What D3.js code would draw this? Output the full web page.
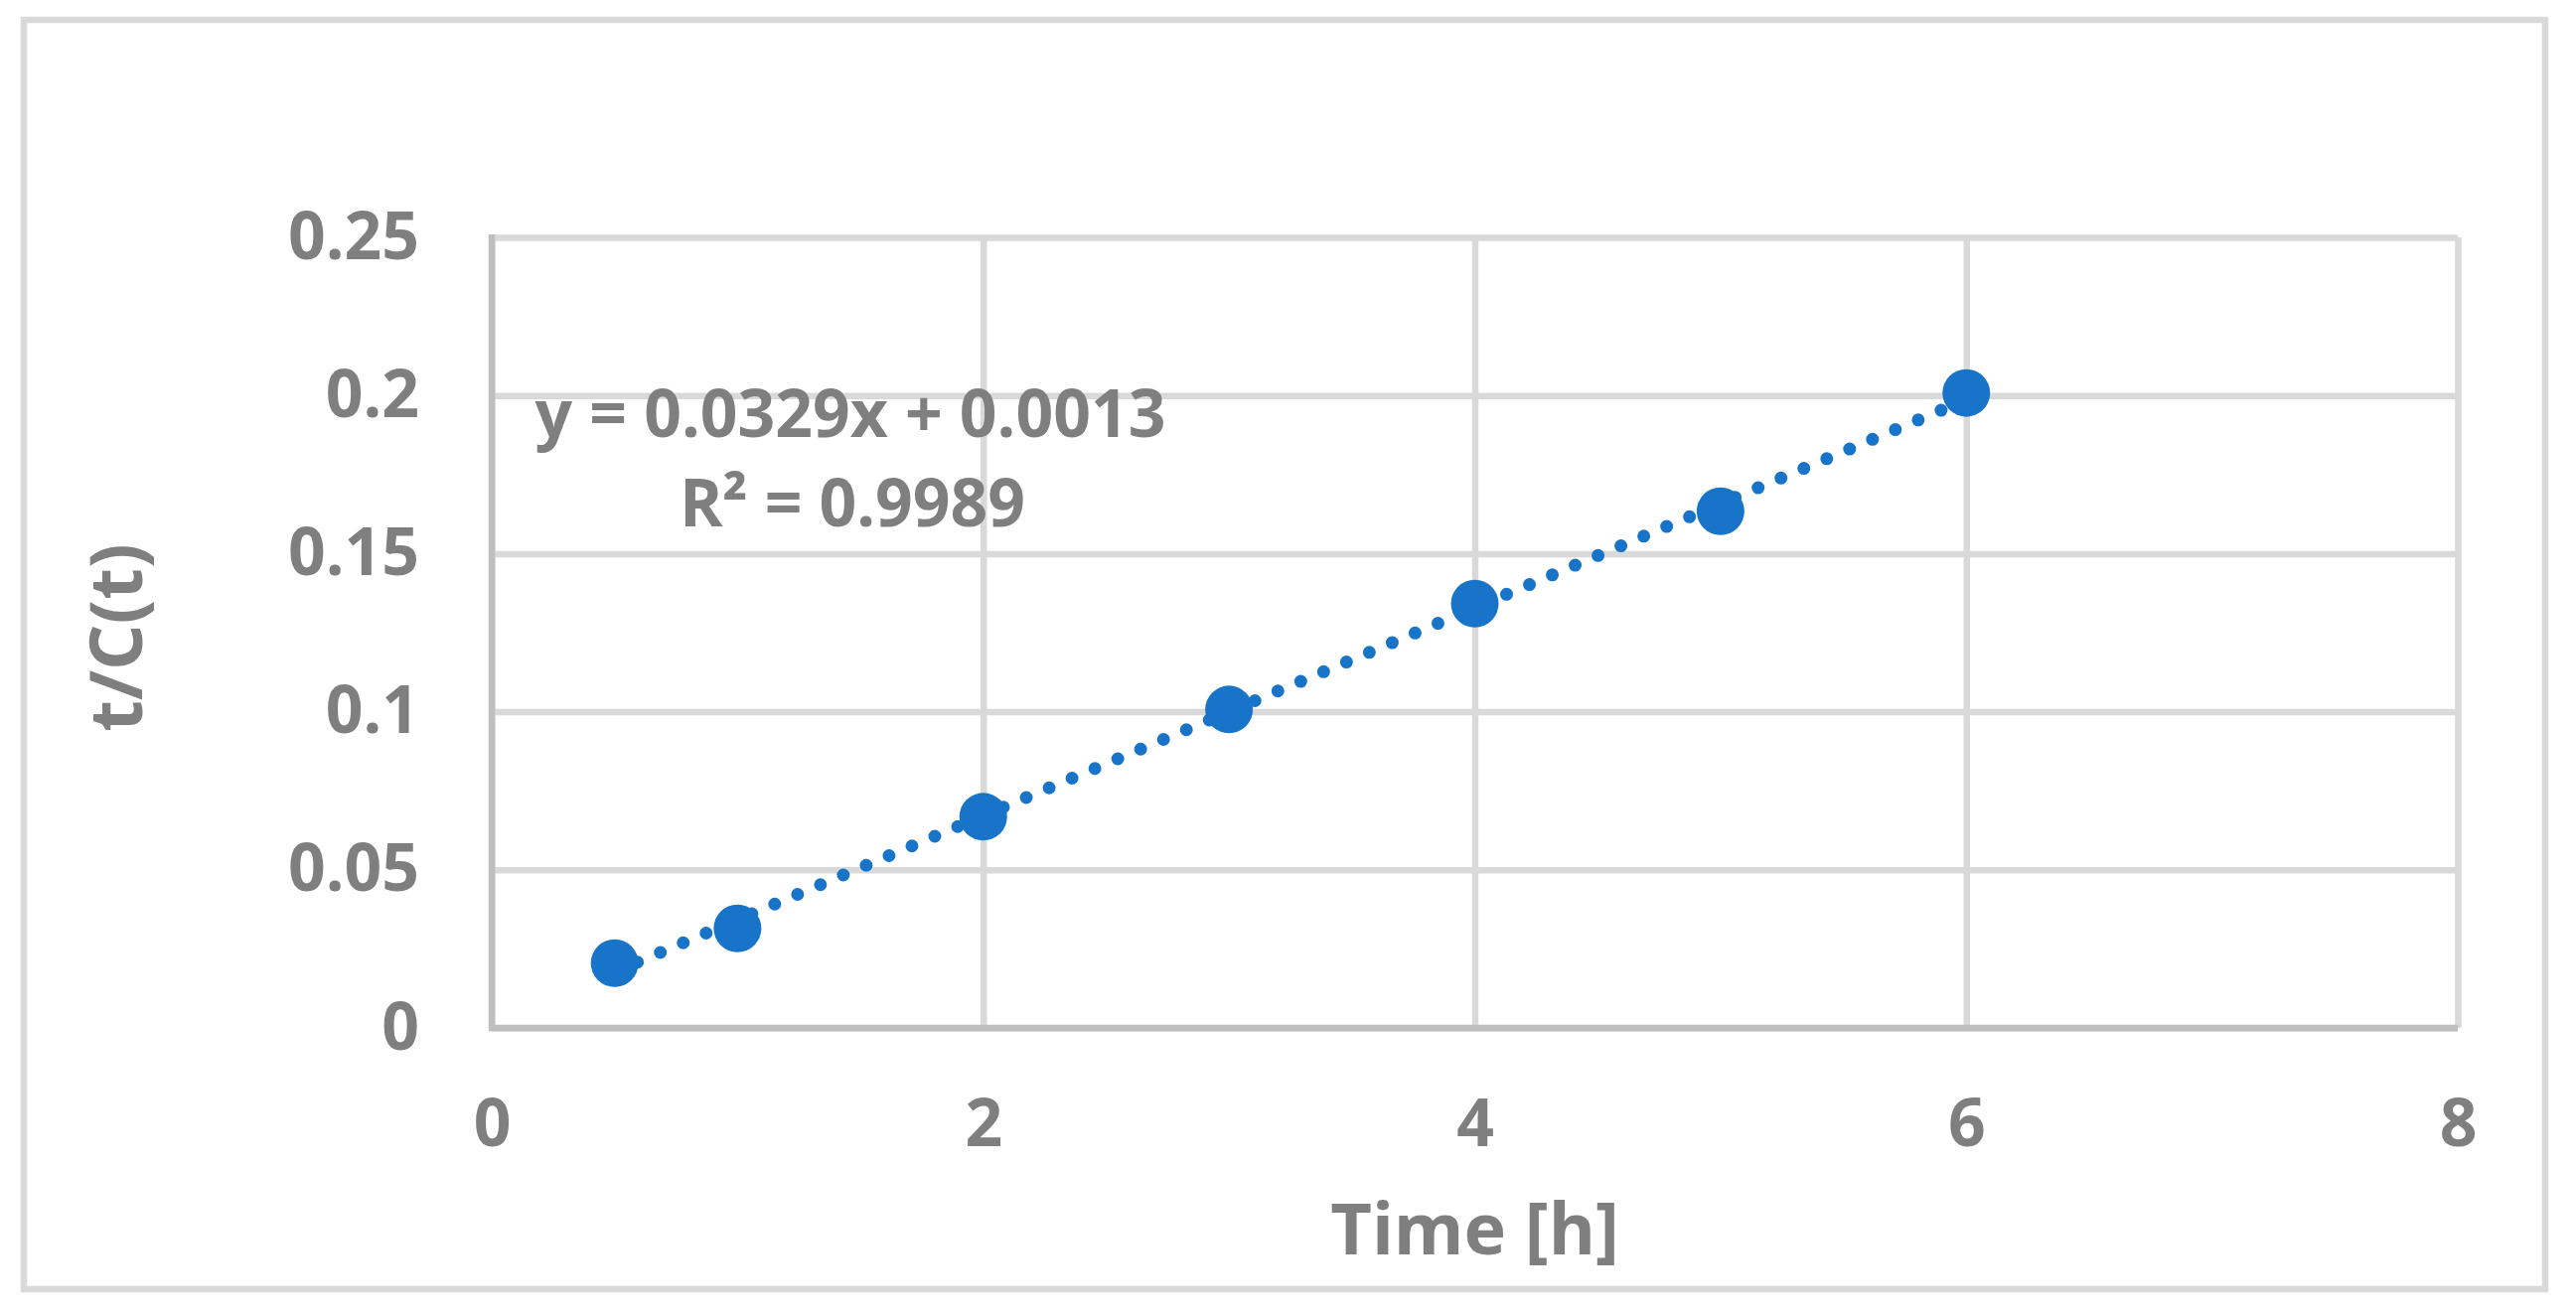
<!DOCTYPE html>
<html>
<head>
<meta charset="utf-8">
<script src="https://cdn.jsdelivr.net/npm/d3@7"></script>
<style>
  body { margin: 0; background: #fff; }
  text { font-family: "Open Sans", sans-serif; font-weight: bold; fill: #7f7f7f; }
</style>
</head>
<body>
<div id="chartContainer"></div>
<script>
// data
const timeHours = [0.5, 1, 2, 3, 4, 5, 6];
const tOverC = [0.0205, 0.0315, 0.0668, 0.1007, 0.1342, 0.1634, 0.2008];

// trendline shown in the chart
const trendSlope = 0.0329;
const trendIntercept = 0.0013;
const trendLabel = "y = 0.0329x + 0.0013";
const r2Label = "R² = 0.9989";

const xTicks = [0, 2, 4, 6, 8];
const yTicks = [0, 0.05, 0.1, 0.15, 0.2, 0.25];
const yTickLabels = ["0", "0.05", "0.1", "0.15", "0.2", "0.25"];

const W = 2593, H = 1321;
const margin = { top: 239, right: 119, bottom: 286, left: 495 };
const width = W - margin.left - margin.right;
const height = H - margin.top - margin.bottom;

const svg = d3.select("#chartContainer")
  .append("svg")
  .attr("width", W)
  .attr("height", H);

// outer chart border
svg.append("rect")
  .attr("x", 24)
  .attr("y", 20)
  .attr("width", 2562 - 24)
  .attr("height", 1298 - 20)
  .attr("fill", "none")
  .attr("stroke", "#d9d9d9")
  .attr("stroke-width", 6.5);

const g = svg.append("g")
  .attr("transform", `translate(${margin.left}, ${margin.top})`);

const xScale = d3.scaleLinear().domain([0, 8]).range([0, width]);
const yScale = d3.scaleLinear().domain([0, 0.25]).range([height, 0]);

// gridlines
g.append("g")
  .attr("class", "grid")
  .call(d3.axisLeft(yScale).tickValues(yTicks).tickSize(-width).tickFormat(""))
  .call(s => s.select(".domain").remove())
  .selectAll("line")
  .attr("stroke", "#d9d9d9")
  .attr("stroke-width", 6.5);

g.append("g")
  .attr("class", "grid")
  .attr("transform", `translate(0, ${height})`)
  .call(d3.axisBottom(xScale).tickValues(xTicks).tickSize(-height).tickFormat(""))
  .call(s => s.select(".domain").remove())
  .selectAll("line")
  .attr("stroke", "#d9d9d9")
  .attr("stroke-width", 6.5);

// axis lines
g.append("line")
  .attr("x1", 0).attr("x2", 0)
  .attr("y1", -3).attr("y2", height + 3)
  .attr("stroke", "#bfbfbf")
  .attr("stroke-width", 6.5);

g.append("line")
  .attr("x1", -3).attr("x2", width)
  .attr("y1", height).attr("y2", height)
  .attr("stroke", "#bfbfbf")
  .attr("stroke-width", 6.5);

// tick labels
const yAxis = g.append("g")
  .call(d3.axisLeft(yScale).tickValues(yTicks).tickSize(0).tickPadding(73)
    .tickFormat((d, i) => yTickLabels[i]));
yAxis.select(".domain").remove();
yAxis.selectAll("text")
  .attr("font-size", "66px")
  .attr("font-family", null)
  .attr("fill", null);

const xAxis = g.append("g")
  .attr("transform", `translate(0, ${height})`)
  .call(d3.axisBottom(xScale).tickValues(xTicks).tickSize(0).tickPadding(72)
    .tickFormat(d3.format("d")));
xAxis.select(".domain").remove();
xAxis.selectAll("text")
  .attr("font-size", "66px")
  .attr("font-family", null)
  .attr("fill", null);

// trendline (round dots)
const trendX = [timeHours[0], timeHours[timeHours.length - 1]];
g.append("line")
  .attr("x1", xScale(trendX[0]))
  .attr("y1", yScale(trendSlope * trendX[0] + trendIntercept))
  .attr("x2", xScale(trendX[1]))
  .attr("y2", yScale(trendSlope * trendX[1] + trendIntercept))
  .attr("stroke", "#1874c8")
  .attr("stroke-width", 13)
  .attr("stroke-linecap", "round")
  .attr("stroke-dasharray", "0 25");

// markers
g.selectAll("circle.pt")
  .data(timeHours)
  .enter()
  .append("circle")
  .attr("class", "pt")
  .attr("cx", d => xScale(d))
  .attr("cy", (d, i) => yScale(tOverC[i]))
  .attr("r", 24)
  .attr("fill", "#1874c8");

// equation label
g.append("text")
  .attr("x", 856 - margin.left)
  .attr("y", 440 - margin.top)
  .attr("text-anchor", "middle")
  .attr("font-size", "66px")
  .text(trendLabel);

g.append("text")
  .attr("x", 858 - margin.left)
  .attr("y", 530 - margin.top)
  .attr("text-anchor", "middle")
  .attr("font-size", "66px")
  .text(r2Label);

// axis titles
g.append("text")
  .attr("x", width / 2)
  .attr("y", 1263 - margin.top)
  .attr("text-anchor", "middle")
  .attr("font-size", "72px")
  .text("Time [h]");

svg.append("text")
  .attr("transform", `translate(143, ${margin.top + height / 2 + 5}) rotate(-90)`)
  .attr("text-anchor", "middle")
  .attr("font-size", "73px")
  .text("t/C(t)");
</script>
</body>
</html>
